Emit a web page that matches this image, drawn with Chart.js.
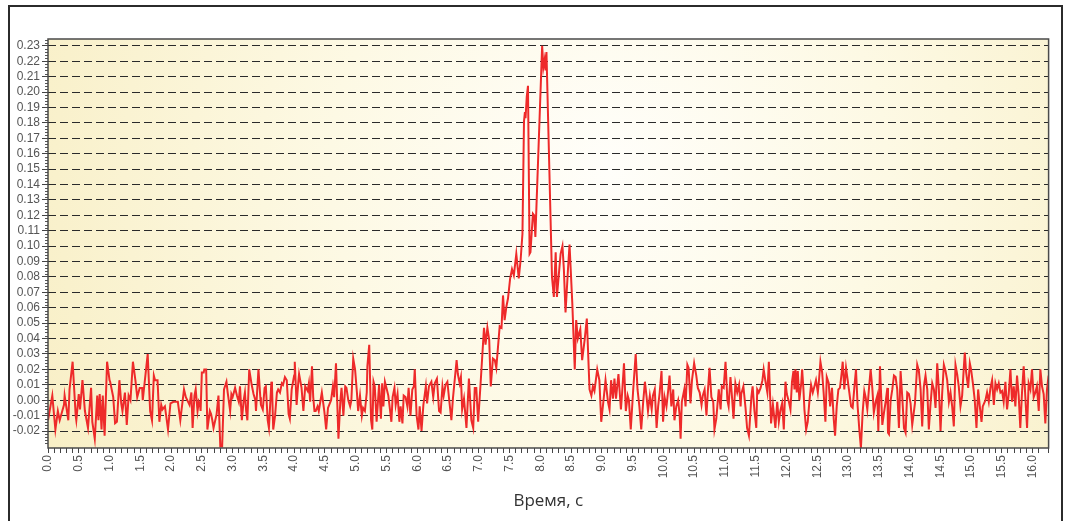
<!DOCTYPE html>
<html>
<head>
<meta charset="utf-8">
<script src="https://cdn.jsdelivr.net/npm/chart.js@4.4.1/dist/chart.umd.min.js"></script>
<style>
  html, body { margin: 0; padding: 0; background: #fff; overflow: hidden; }
</style>
</head>
<body>
<canvas id="c" width="1065" height="521"></canvas>
<script>
// время, с
const timeS = [
  0.00,0.07,0.12,0.16,0.19,0.26,0.27,0.33,0.35,0.40,
  0.45,0.46,0.50,0.52,0.56,0.60,0.65,0.70,0.72,0.76,
  0.80,0.82,0.84,0.87,0.89,0.92,0.96,1.00,1.01,1.06,
  1.09,1.12,1.16,1.19,1.21,1.25,1.28,1.31,1.34,1.38,
  1.42,1.45,1.49,1.53,1.54,1.62,1.66,1.69,1.72,1.74,
  1.78,1.81,1.84,1.86,1.90,1.95,1.99,2.04,
  2.11,2.15,2.21,2.24,2.30,2.33,2.35,2.38,2.40,2.43,
  2.45,2.47,2.48,2.50,2.53,2.54,2.57,2.59,2.63,2.65,
  2.67,2.69,2.74,2.77,2.80,2.83,2.86,2.90,2.92,2.93,
  2.96,2.98,3.00,3.04,3.07,3.10,3.12,3.15,3.18,3.20,
  3.22,3.24,3.27,3.31,3.34,3.37,3.38,3.42,3.45,3.46,
  3.49,3.52,3.54,3.57,3.59,3.63,3.64,3.66,3.69,3.72,
  3.74,3.77,3.80,3.82,3.85,3.88,3.91,3.93,3.96,4.00,
  4.01,4.04,4.07,
  4.08,4.12,4.15,4.18,4.22,4.24,4.26,4.29,4.31,4.33,
  4.35,4.38,4.40,4.45,4.47,4.49,4.52,4.55,4.60,4.63,
  4.65,4.68,4.70,4.72,4.75,4.77,4.80,4.83,4.85,4.88,
  4.91,4.93,4.96,4.99,5.02,5.04,5.07,5.10,5.12,5.15,
  5.18,5.19,5.22,5.25,5.27,5.29,5.31,5.34,5.36,5.38,
  5.41,5.43,5.45,5.475,5.50,5.53,5.56,5.58,5.60,5.63,
  5.65,5.68,5.71,5.73,5.76,5.78,5.81,5.84,5.86,5.89,
  5.92,5.945,5.96,5.99,6.02,6.04,6.07,6.10,
  6.14,6.16,6.19,6.23,6.26,6.285,6.32,6.355,6.38,6.41,
  6.43,6.46,6.49,6.52,6.555,6.58,6.64,6.66,6.69,6.71,
  6.73,6.76,6.80,6.84,6.88,6.91,6.935,6.96,6.99,7.03,
  7.085,7.11,7.14,7.17,7.195,7.23,7.26,7.285,7.34,7.37,
  7.394,7.42,7.45,7.475,7.51,7.54,7.57,7.61,7.65,7.68,
  7.71,7.735,7.75,7.76,7.78,7.80,7.826,7.84,7.88,7.90,
  7.92,8.03,8.05,8.07,8.085,8.10,8.19,8.22,8.25,8.27,
  8.30,8.33,8.36,8.383,8.41,8.45,8.475,8.52,8.56,8.583,
  8.61,8.65,8.68,8.72,8.756,8.80,8.83,8.855,8.88,8.925,
  8.96,8.99,9.03,9.06,9.10,9.125,9.15,9.18,9.205,9.23,
  9.27,
  9.31,9.33,9.36,9.39,9.42,9.44,9.47,9.51,9.55,9.58,
  9.61,9.64,9.67,9.70,9.725,9.75,9.78,9.81,9.83,9.86,
  9.89,9.915,9.94,9.97,9.995,10.02,10.05,10.08,10.10,10.13,
  10.16,10.18,10.21,10.24,10.265,10.28,10.30,10.34,10.36,10.39,
  10.41,10.44,10.465,10.50,10.535,10.56,10.59,10.62,10.64,10.67,
  10.70,10.725,10.75,10.78,10.81,10.83,10.86,10.90,10.93,10.95,
  10.98,11.01,11.04,11.06,11.09,11.11,11.14,11.17,11.20,11.23,
  11.255,
  11.265,11.30,11.335,11.36,11.39,11.43,11.45,11.48,11.51,11.525,
  11.55,11.58,11.61,11.63,11.645,11.66,11.69,11.714,11.735,11.75,
  11.78,11.82,11.85,11.876,11.90,11.93,11.957,11.984,12.006,12.04,
  12.065,12.09,12.114,12.13,12.146,12.168,12.184,12.21,12.24,12.255,
  12.276,12.292,12.32,12.346,12.37,12.40,12.428,12.455,12.48,12.51,
  12.525,12.552,12.58,12.606,12.633,12.655,12.687,12.71,12.74,12.768,
  12.79,12.817,12.844,12.87,12.898,12.914,12.94,12.968,12.995,13.022,
  13.05,13.076,13.103,13.13,13.157,13.184,13.21,13.238,13.265,
  13.287,13.314,13.34,13.368,13.395,13.42,13.45,13.477,13.493,13.52,
  13.558,13.585,13.612,13.64,13.65,13.666,13.693,13.72,13.747,13.774,
  13.80,13.828,13.855,13.882,13.91,13.936,13.963,13.99,14.017,14.044,
  14.088,14.125,14.152,14.18,14.206,14.233,14.26,14.288,14.314,14.34,
  14.369,14.396,14.423,14.45,14.477,14.504,14.53,14.558,14.585,14.612,
  14.64,14.666,14.693,14.72,14.747,14.774,14.80,14.828,14.855,14.882,
  14.898,14.92,14.953,14.98,15.00,15.03,15.06,15.088,15.115,15.142,
  15.17,15.19,15.234,15.26,15.288,15.315,15.342,15.37,15.396,15.423,
  15.45,15.477,15.504,15.53,15.558,15.585,15.612,15.64,15.666,15.693,
  15.72,15.747,15.774,15.80,15.828,15.855,15.882,15.91,15.936,15.964,
  15.99,16.018,16.045,16.07,16.10,16.126,16.153,16.18,16.207,16.234,
  16.26
];

// сигнал
const accel = [
  -0.013,0.003,-0.019,-0.007,-0.013,-0.003,0.003,-0.013,0.007,0.025,
  -0.010,-0.013,0.004,-0.006,0.013,-0.007,-0.018,0.008,-0.014,-0.025,
  0.003,-0.013,0.004,-0.019,0.003,-0.023,0.025,0.013,0.012,0.002,
  -0.015,-0.014,0.013,-0.002,-0.007,0.005,-0.016,0.003,0.000,0.025,
  0.013,0.002,0.008,0.008,0.000,0.030,-0.007,-0.013,0.016,0.013,
  0.013,-0.014,-0.003,-0.006,-0.004,-0.019,-0.002,-0.001,
  -0.001,-0.013,0.007,0.002,-0.003,0.005,-0.018,0.003,0.007,-0.007,
  -0.001,-0.003,-0.007,0.018,0.018,0.020,0.020,-0.019,-0.007,-0.009,
  -0.013,-0.018,-0.009,0.003,-0.030,-0.030,0.007,0.012,0.005,0.002,
  -0.007,0.004,0.002,0.008,0.003,-0.001,0.009,-0.013,0.000,0.005,
  -0.007,-0.013,0.020,0.010,0.004,0.000,-0.007,0.020,0.002,-0.003,
  -0.006,0.008,0.009,-0.013,-0.018,0.012,0.009,-0.019,-0.010,0.005,
  0.007,0.005,0.011,0.010,0.015,0.013,-0.009,-0.012,0.007,0.016,
  0.025,-0.003,0.013,
  0.017,0.008,-0.007,0.009,0.006,0.011,-0.001,0.022,0.002,-0.007,
  -0.007,-0.004,-0.007,0.005,-0.001,-0.007,-0.019,-0.005,0.000,0.009,
  0.002,0.024,-0.001,-0.025,-0.001,0.008,-0.010,0.009,0.008,0.000,
  -0.004,0.000,0.027,0.020,0.005,-0.007,0.003,-0.010,-0.005,-0.007,
  0.005,0.022,0.036,-0.013,-0.019,0.012,0.009,-0.014,-0.002,0.010,
  -0.012,0.011,-0.004,0.012,0.008,0.003,-0.007,-0.014,0.002,0.008,
  -0.003,0.004,-0.014,-0.004,-0.015,0.003,0.002,-0.004,0.008,-0.010,
  0.007,0.009,0.020,-0.010,-0.019,-0.004,-0.020,-0.003,
  0.009,-0.002,0.009,0.012,0.002,0.011,0.014,-0.007,-0.008,0.009,
  0.003,0.010,0.012,0.000,-0.013,0.001,0.026,0.017,0.011,0.015,
  -0.006,0.001,-0.018,0.014,-0.013,-0.018,0.008,0.008,-0.014,0.011,
  0.047,0.036,0.047,0.039,0.009,0.027,0.026,0.021,0.048,0.047,
  0.068,0.052,0.061,0.066,0.079,0.085,0.081,0.095,0.079,0.091,
  0.108,0.181,0.187,0.183,0.197,0.204,0.095,0.096,0.121,0.120,
  0.106,0.230,0.216,0.221,0.214,0.226,0.080,0.067,0.096,0.067,
  0.081,0.095,0.100,0.085,0.057,0.085,0.101,0.063,0.020,0.052,
  0.040,0.046,0.026,0.039,0.053,0.007,0.003,0.009,0.006,0.020,
  0.013,-0.014,0.001,0.013,-0.001,-0.006,0.013,0.001,0.014,0.001,
  0.017,
  -0.006,0.005,0.024,-0.007,0.003,0.000,-0.019,0.007,0.030,0.007,
  -0.004,-0.019,-0.002,0.012,0.003,-0.007,0.003,-0.006,0.003,0.007,
  -0.018,-0.004,0.005,0.019,-0.014,0.002,-0.004,0.007,0.016,-0.004,
  0.007,-0.013,-0.004,0.000,-0.010,-0.025,-0.001,0.007,-0.004,0.023,
  0.021,-0.002,0.013,0.024,0.016,0.008,0.005,-0.003,0.003,0.007,
  -0.010,0.007,0.021,0.002,-0.001,-0.019,-0.012,0.007,-0.006,0.009,
  0.008,0.025,0.000,-0.004,0.015,0.005,-0.012,0.011,0.005,0.010,
  -0.004,
  0.004,0.009,-0.005,-0.018,-0.023,0.002,0.009,-0.007,-0.018,0.007,
  0.005,0.008,0.013,0.020,0.016,0.012,0.005,0.025,0.002,-0.015,
  -0.003,-0.018,-0.001,-0.014,-0.007,-0.002,-0.019,0.012,0.004,-0.001,
  -0.006,0.012,0.019,0.007,0.020,0.005,0.019,0.000,0.011,0.020,
  0.007,-0.006,-0.019,-0.014,-0.002,0.010,0.005,0.009,0.013,0.005,
  0.011,0.025,0.018,0.004,-0.014,0.015,0.011,-0.004,0.008,-0.012,
  -0.023,-0.004,0.007,0.008,0.018,0.025,0.007,0.021,0.013,0.005,
  -0.004,-0.005,0.008,0.020,-0.004,-0.019,-0.031,-0.008,0.006,
  0.002,-0.006,0.007,0.020,0.008,-0.008,-0.001,0.003,-0.020,0.022,
  -0.016,-0.008,-0.001,0.008,-0.021,-0.022,0.000,0.007,0.016,0.015,
  0.007,-0.018,0.019,0.002,-0.018,-0.021,0.005,0.004,-0.002,-0.016,
  -0.002,0.023,0.019,0.007,-0.017,0.009,0.016,0.007,-0.019,-0.003,
  0.011,0.007,-0.005,0.024,0.007,-0.020,0.004,0.023,0.019,0.013,
  -0.001,0.005,-0.004,-0.017,0.023,0.017,0.009,-0.004,0.003,0.021,
  0.031,0.018,0.008,0.024,0.020,0.011,0.000,-0.018,0.007,-0.004,
  -0.014,-0.004,0.000,0.005,-0.001,0.008,0.013,-0.003,0.011,0.007,
  0.011,0.005,0.006,-0.001,0.012,-0.006,0.004,0.020,-0.001,0.009,
  -0.004,0.016,0.003,-0.018,0.005,0.022,0.002,-0.018,0.011,0.007,
  0.020,0.002,0.005,0.009,-0.007,0.020,0.009,0.004,-0.015,0.007,
  0.016
];

const xMax = 16.26;
const yMin = -0.031;
const yMax = 0.2344;
const yLowestLabel = -0.02;
const axisTitle = 'Время, с';

const tickFont = { family: "'Liberation Sans Narrow', 'Liberation Sans', sans-serif", size: 12 };

if (timeS.length !== accel.length) console.error('length mismatch', timeS.length, accel.length);

const points = timeS.map((t, i) => ({ x: t, y: accel[i] }));

const framePlugin = {
  id: 'framePlugin',
  beforeDraw(chart) {
    const { ctx, chartArea: a } = chart;
    ctx.save();
    ctx.fillStyle = '#ffffff';
    ctx.fillRect(0, 0, chart.width, chart.height);
    // внешняя рамка
    ctx.strokeStyle = '#2b2b2b';
    ctx.lineWidth = 2;
    ctx.strokeRect(9, 6, 1053, 540);
    // фон области графика
    const cx = (a.left + a.right) / 2 + 60;
    const cy = a.top + 130;
    const g = ctx.createRadialGradient(cx, cy, 0, cx, cy, 620);
    g.addColorStop(0, '#fffefa');
    g.addColorStop(0.45, '#fdf9e4');
    g.addColorStop(1, '#f8efc6');
    ctx.fillStyle = g;
    ctx.fillRect(a.left, a.top, a.right - a.left, a.bottom - a.top);
    ctx.restore();
  },
  afterDraw(chart) {
    const { ctx, chartArea: a } = chart;
    const ys = chart.scales.y;
    ctx.save();
    // мелкие деления оси Y
    ctx.strokeStyle = '#555';
    ctx.lineWidth = 1;
    ctx.beginPath();
    for (let k = -15; k <= 117; k++) {
      if (k % 5 === 0) continue;
      const py = Math.round(ys.getPixelForValue(k * 0.002)) + 0.5;
      ctx.moveTo(a.left - 3, py);
      ctx.lineTo(a.left, py);
    }
    ctx.stroke();
    // рамка области графика
    ctx.strokeStyle = '#4a4a4a';
    ctx.lineWidth = 1.5;
    ctx.strokeRect(a.left, a.top, a.right - a.left, a.bottom - a.top);
    ctx.restore();
  }
};

new Chart(document.getElementById('c'), {
  type: 'line',
  data: {
    datasets: [{
      data: points,
      borderColor: '#ee2a2a',
      borderWidth: 2,
      pointRadius: 0,
      tension: 0,
      fill: false
    }]
  },
  options: {
    responsive: false,
    animation: false,
    devicePixelRatio: 1,
    layout: { padding: { left: 0, right: 15, top: 39, bottom: 0 } },
    plugins: {
      legend: { display: false },
      tooltip: { enabled: false }
    },
    scales: {
      x: {
        type: 'linear',
        min: 0,
        max: xMax,
        afterFit(s) { s.height = 73; },
        border: { display: false },
        grid: { drawOnChartArea: false, drawTicks: true, tickLength: 5, tickColor: '#444' },
        ticks: {
          stepSize: 0.1,
          autoSkip: false,
          minRotation: 90,
          maxRotation: 90,
          padding: 2,
          color: '#555',
          font: tickFont,
          callback(v) {
            return Math.abs(v * 2 - Math.round(v * 2)) < 1e-6 ? v.toFixed(1) : '';
          }
        },
        title: {
          display: true,
          text: axisTitle,
          color: '#333',
          font: { family: "'Open Sans', sans-serif", size: 17 },
          padding: { top: 0, bottom: 10 }
        }
      },
      y: {
        type: 'linear',
        min: yMin,
        max: yMax,
        afterFit(s) { s.width = 48; },
        afterBuildTicks(s) {
          s.ticks = s.ticks.filter(t => t.value >= yLowestLabel - 1e-9);
        },
        border: { display: false, dash: [8, 4] },
        grid: { color: '#2a2a2a', lineWidth: 1, tickLength: 6, tickColor: '#444' },
        ticks: {
          stepSize: 0.01,
          includeBounds: false,
          autoSkip: false,
          padding: 2,
          color: '#555',
          font: tickFont,
          callback(v) { return v.toFixed(2); }
        }
      }
    }
  },
  plugins: [framePlugin]
});
</script>
</body>
</html>
